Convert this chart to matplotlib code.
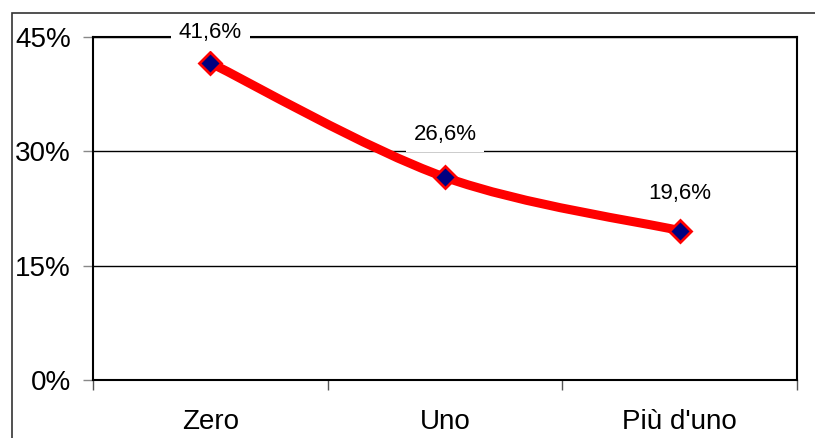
import matplotlib
matplotlib.use("Agg")
import matplotlib.pyplot as plt
from matplotlib.path import Path
from matplotlib.patches import PathPatch, Rectangle
from matplotlib.ticker import FixedLocator, FuncFormatter

plt.rcParams['font.family'] = ['Liberation Sans', 'DejaVu Sans']

categories = ["Zero", "Uno", "Più d'uno"]
values = [41.6, 26.6, 19.6]
labels = ["41,6%", "26,6%", "19,6%"]
yticks = [0, 15, 30, 45]

fig = plt.figure(figsize=(8.15, 4.38), dpi=100)
ax = fig.add_axes([93 / 815, 58 / 438, 704 / 815, 343 / 438])

# outer chart border (left and top edges only visible)
fig.patches.append(Rectangle((12 / 815, -0.1), 1.2, 1.07,
                             transform=fig.transFigure, fill=False,
                             edgecolor="#333333", linewidth=1.2))

# smoothed line through the points (Catmull-Rom as cubic Bezier)
xs = list(range(len(values)))
pts = list(zip(xs, values))
ext = [pts[0]] + pts + [pts[-1]]
verts = [pts[0]]
codes = [Path.MOVETO]
for i in range(1, len(ext) - 2):
    p0, p1, p2, p3 = ext[i - 1], ext[i], ext[i + 1], ext[i + 2]
    c1 = (p1[0] + (p2[0] - p0[0]) / 6, p1[1] + (p2[1] - p0[1]) / 6)
    c2 = (p2[0] - (p3[0] - p1[0]) / 6, p2[1] - (p3[1] - p1[1]) / 6)
    verts += [c1, c2, p2]
    codes += [Path.CURVE4] * 3
ax.add_patch(PathPatch(Path(verts, codes), fill=False, edgecolor="#ff0000",
                       linewidth=6.5, capstyle="butt", zorder=3))
ax.plot(xs, values, linestyle="none", marker="D", markersize=11,
        markerfacecolor="#000080", markeredgecolor="#ff0000",
        markeredgewidth=2, zorder=4)

offsets = [22, 31, 27]
for x, v, lab, off in zip(xs, values, labels, offsets):
    ax.annotate(lab, (x, v), xytext=(0, off), textcoords="offset points",
                ha="center", va="center", fontsize=16, zorder=5,
                annotation_clip=False,
                bbox=dict(boxstyle="square,pad=0.35", facecolor="white",
                          edgecolor="none"))

ax.set_xlim(-0.5, len(categories) - 0.5)
ax.set_ylim(0, 45)
ax.set_yticks(yticks)
ax.yaxis.set_major_formatter(FuncFormatter(lambda v, p: f"{v:.0f}%"))
ax.grid(axis="y", color="black", linewidth=1)
ax.set_axisbelow(True)

ax.set_xticks(xs)
ax.set_xticklabels(categories)
ax.xaxis.set_minor_locator(FixedLocator([i - 0.5 for i in range(len(categories) + 1)]))
ax.tick_params(axis="x", which="major", length=0, pad=21, labelsize=20)
ax.tick_params(axis="x", which="minor", length=7, width=1, color="#555555")
ax.tick_params(axis="y", length=7, width=1, color="#888888", pad=9, labelsize=20)

for s in ax.spines.values():
    s.set_color("black")
    s.set_linewidth(1.5)

fig.savefig("out.png", dpi=100)
